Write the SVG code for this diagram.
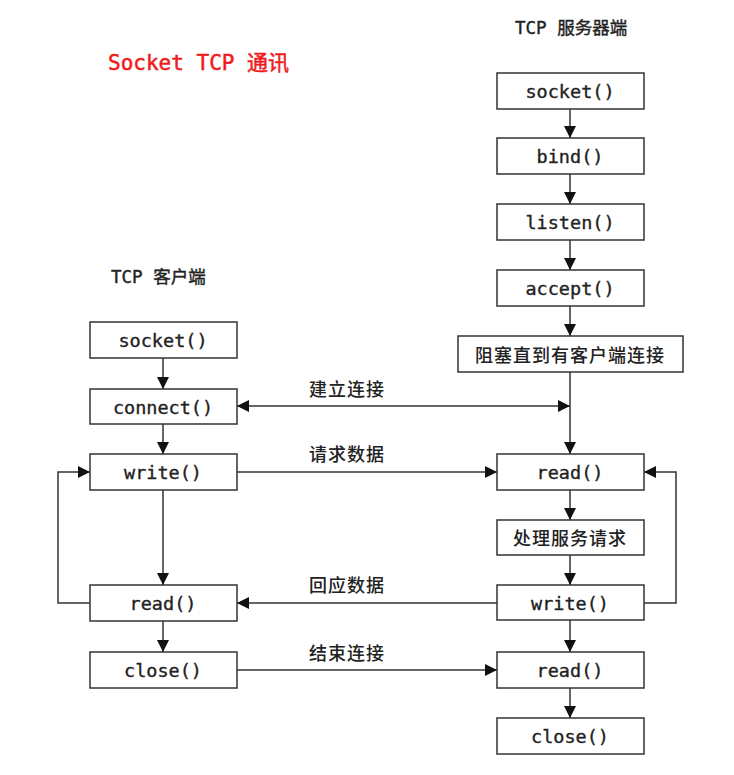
<svg xmlns="http://www.w3.org/2000/svg" width="734" height="775" viewBox="0 0 734 775">
<style>
.box{fill:#fff;stroke:#333;stroke-width:1.5}
.t{font-family:"DejaVu Sans Mono","Noto Sans CJK SC",monospace;font-size:18.5px;fill:#222;stroke:#222;stroke-width:0.35;text-anchor:middle;dominant-baseline:central}
.cn{font-family:"Noto Sans CJK SC","DejaVu Sans",sans-serif;font-size:18px;font-weight:500;fill:#222;text-anchor:middle;dominant-baseline:central;letter-spacing:1px}
.h{font-family:"DejaVu Sans Mono","Noto Sans CJK SC",monospace;font-size:17.5px;fill:#222;stroke:#222;stroke-width:0.4}
.c{fill:none;stroke:#333;stroke-width:1.5}
</style>
<defs>
<marker id="ah" markerUnits="userSpaceOnUse" markerWidth="12" markerHeight="12" refX="10" refY="5" orient="auto-start-reverse" viewBox="0 0 10 10">
<path d="M0,0 L10,5 L0,10 Z" fill="#111"/>
</marker>
</defs>
<text x="108" y="70" style="font-family:'DejaVu Sans Mono','Noto Sans CJK SC',monospace;font-size:21px;fill:#ee1c1c;stroke:#ee1c1c;stroke-width:0.5">Socket TCP 通讯</text>
<text class="h" x="515" y="34">TCP 服务器端</text>
<text class="h" x="111" y="283">TCP 客户端</text>
<g id="connectors">
<path class="c" marker-end="url(#ah)" d="M570,109 V138"/>
<path class="c" marker-end="url(#ah)" d="M570,174 V204"/>
<path class="c" marker-end="url(#ah)" d="M570,240 V270"/>
<path class="c" marker-end="url(#ah)" d="M570,306 V336"/>
<path class="c" marker-end="url(#ah)" d="M570,372 V454"/>
<path class="c" marker-end="url(#ah)" d="M570,490 V520"/>
<path class="c" marker-end="url(#ah)" d="M570,555 V585"/>
<path class="c" marker-end="url(#ah)" d="M570,620 V652"/>
<path class="c" marker-end="url(#ah)" d="M570,688 V718"/>
<path class="c" marker-end="url(#ah)" d="M163,358 V389"/>
<path class="c" marker-end="url(#ah)" d="M163,424 V454"/>
<path class="c" marker-end="url(#ah)" d="M163,490 V585"/>
<path class="c" marker-end="url(#ah)" d="M163,621 V652"/>
<path class="c" marker-start="url(#ah)" marker-end="url(#ah)" d="M237,406 H570"/>
<path class="c" marker-end="url(#ah)" d="M237,472 H497"/>
<path class="c" marker-end="url(#ah)" d="M497,603 H237"/>
<path class="c" marker-end="url(#ah)" d="M237,670 H497"/>
<path class="c" marker-end="url(#ah)" d="M90,603 H58 V472 H90"/>
<path class="c" marker-end="url(#ah)" d="M644,603 H676 V472 H644"/>
<text class="cn" x="347" y="388">建立连接</text>
<text class="cn" x="347" y="453">请求数据</text>
<text class="cn" x="347" y="584">回应数据</text>
<text class="cn" x="347" y="652">结束连接</text>
</g>
<g id="s_socket"><rect class="box" x="497" y="73" width="147" height="36"/><text class="t" x="570" y="91">socket()</text></g>
<g id="s_bind"><rect class="box" x="497" y="138" width="147" height="36"/><text class="t" x="570" y="156">bind()</text></g>
<g id="s_listen"><rect class="box" x="497" y="204" width="147" height="36"/><text class="t" x="570" y="222">listen()</text></g>
<g id="s_accept"><rect class="box" x="497" y="270" width="147" height="36"/><text class="t" x="570" y="288">accept()</text></g>
<g id="s_block"><rect class="box" x="458" y="336" width="225" height="36"/><text class="cn" x="570" y="354">阻塞直到有客户端连接</text></g>
<g id="s_read1"><rect class="box" x="497" y="454" width="147" height="36"/><text class="t" x="570" y="472">read()</text></g>
<g id="s_proc"><rect class="box" x="497" y="520" width="147" height="35"/><text class="cn" x="570" y="537">处理服务请求</text></g>
<g id="s_write"><rect class="box" x="497" y="585" width="147" height="35"/><text class="t" x="570" y="603">write()</text></g>
<g id="s_read2"><rect class="box" x="497" y="652" width="147" height="36"/><text class="t" x="570" y="670">read()</text></g>
<g id="s_close"><rect class="box" x="497" y="718" width="147" height="36"/><text class="t" x="570" y="736">close()</text></g>
<g id="c_socket"><rect class="box" x="90" y="322" width="147" height="36"/><text class="t" x="163" y="340">socket()</text></g>
<g id="c_connect"><rect class="box" x="90" y="389" width="147" height="35"/><text class="t" x="163" y="407">connect()</text></g>
<g id="c_write"><rect class="box" x="90" y="454" width="147" height="36"/><text class="t" x="163" y="472">write()</text></g>
<g id="c_read"><rect class="box" x="90" y="585" width="147" height="36"/><text class="t" x="163" y="603">read()</text></g>
<g id="c_close"><rect class="box" x="90" y="652" width="147" height="36"/><text class="t" x="163" y="670">close()</text></g>
</svg>
